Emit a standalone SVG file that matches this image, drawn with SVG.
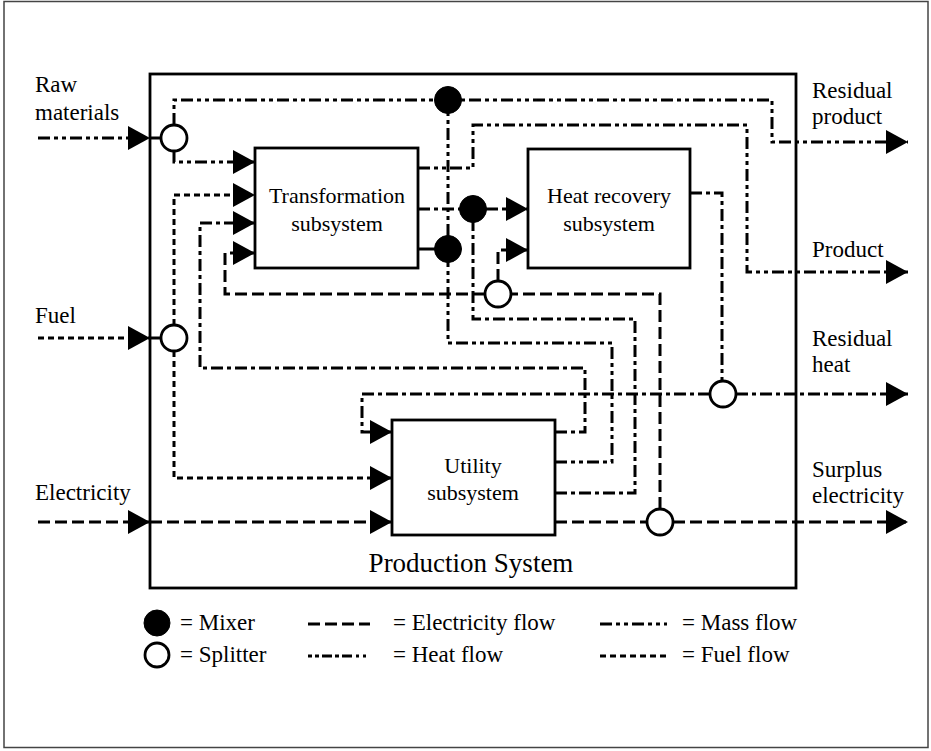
<svg xmlns="http://www.w3.org/2000/svg" width="931" height="751" viewBox="0 0 931 751">
<style>
text{font-family:"Liberation Serif","Times New Roman",serif;font-size:23px;fill:#000}
.bt{font-size:22px}
.box{fill:#fff;stroke:#000;stroke-width:2.8}
.ln{fill:none;stroke:#000;stroke-width:3}
.mass{stroke-dasharray:12 4 4 4 4 4}
.heat{stroke-dasharray:12 4 4 4}
.elec{stroke-dasharray:12 5}
.fuel{stroke-dasharray:6 4}
.sp{fill:#fff;stroke:#000;stroke-width:2.8}
.mx{fill:#000;stroke:#000;stroke-width:1}
.mid{text-anchor:middle}
</style>
<defs>
<marker id="ar" markerUnits="userSpaceOnUse" markerWidth="22" markerHeight="24" refX="22" refY="12" orient="auto">
<path d="M0,0 L22,12 L0,24 z" fill="#000"/>
</marker>
</defs>
<rect x="0" y="0" width="931" height="751" fill="#fff"/>
<rect x="4" y="1.5" width="924" height="746" fill="none" stroke="#444" stroke-width="1.5"/>

<g id="production-system">
<rect x="150" y="74" width="646" height="514" fill="none" stroke="#000" stroke-width="2.8"/>
<text x="471" y="572" class="mid" style="font-size:27px">Production System</text>
</g>

<g id="connectors">
<!-- mass flows -->
<path class="ln mass" d="M38,138 H150" marker-end="url(#ar)"/>
<path class="ln" d="M150,138 H161"/>
<path class="ln mass" d="M174,125 V100 H772 V142 H908" marker-end="url(#ar)"/>
<path class="ln mass" d="M174,151 V162 H255" marker-end="url(#ar)"/>
<path class="ln mass" d="M418,168 H473 V125 H747 V272 H908" marker-end="url(#ar)"/>
<path class="ln" d="M418,249 H435"/>
<path class="ln mass" d="M448,236 V113"/>
<path class="ln mass" d="M555,462 H612 V343 H448 V262"/>
<!-- heat flows -->
<path class="ln heat" d="M418,209 H460"/>
<path class="ln heat" d="M486,209 H528" marker-end="url(#ar)"/>
<path class="ln heat" d="M555,493 H635 V319 H473 V222"/>
<path class="ln heat" d="M690,193 H722 V381"/>
<path class="ln heat" d="M736,394 H908" marker-end="url(#ar)"/>
<path class="ln heat" d="M710,394 H362 V432 H392" marker-end="url(#ar)"/>
<path class="ln heat" d="M555,432 H585 V368 H200 V223 H255" marker-end="url(#ar)"/>
<!-- electricity flows -->
<path class="ln elec" d="M38,522 H150" marker-end="url(#ar)"/>
<path class="ln elec" d="M150,522 H392" marker-end="url(#ar)"/>
<path class="ln elec" d="M555,522 H647"/>
<path class="ln elec" d="M673,522 H908" marker-end="url(#ar)"/>
<path class="ln elec" d="M660,509 V294 H511"/>
<path class="ln elec" d="M498,281 V250 H528" marker-end="url(#ar)"/>
<path class="ln elec" d="M485,294 H225 V253 H255" marker-end="url(#ar)"/>
<!-- fuel flows -->
<path class="ln fuel" d="M38,338 H150" marker-end="url(#ar)"/>
<path class="ln" d="M150,338 H161"/>
<path class="ln fuel" d="M174,325 V195 H255" marker-end="url(#ar)"/>
<path class="ln fuel" d="M174,351 V478 H392" marker-end="url(#ar)"/>
</g>

<g id="transformation">
<rect class="box" x="255" y="148" width="163" height="120"/>
<text x="337" y="203" class="mid bt">Transformation</text>
<text x="337" y="231" class="mid bt">subsystem</text>
</g>
<g id="heat-recovery">
<rect class="box" x="528" y="149" width="162" height="119"/>
<text x="609" y="203" class="mid bt">Heat recovery</text>
<text x="609" y="231" class="mid bt">subsystem</text>
</g>
<g id="utility">
<rect class="box" x="392" y="420" width="163" height="115"/>
<text x="473" y="473" class="mid bt">Utility</text>
<text x="473" y="500" class="mid bt">subsystem</text>
</g>

<g id="splitter-raw"><circle class="sp" cx="174" cy="138" r="13"/></g>
<g id="splitter-fuel"><circle class="sp" cx="174" cy="338" r="13"/></g>
<g id="mixer-top"><circle class="mx" cx="448" cy="100" r="13.5"/></g>
<g id="mixer-mid"><circle class="mx" cx="473" cy="209" r="13.5"/></g>
<g id="mixer-bottom"><circle class="mx" cx="448" cy="249" r="13.5"/></g>
<g id="splitter-elec"><circle class="sp" cx="498" cy="294" r="13"/></g>
<g id="splitter-heat"><circle class="sp" cx="723" cy="394" r="13"/></g>
<g id="splitter-surplus"><circle class="sp" cx="660" cy="522" r="13"/></g>

<g id="labels">
<text x="35" y="92">Raw</text>
<text x="35" y="120">materials</text>
<text x="35" y="323">Fuel</text>
<text x="35" y="500">Electricity</text>
<text x="812" y="98">Residual</text>
<text x="812" y="124">product</text>
<text x="812" y="257">Product</text>
<text x="812" y="346">Residual</text>
<text x="812" y="372">heat</text>
<text x="812" y="477">Surplus</text>
<text x="812" y="503">electricity</text>
</g>

<g id="legend">
<circle class="mx" cx="157" cy="623" r="13"/>
<text x="180" y="630">= Mixer</text>
<circle class="sp" cx="157" cy="655" r="12"/>
<text x="180" y="662">= Splitter</text>
<path class="ln elec" d="M308,624 H370"/>
<text x="393" y="630">= Electricity flow</text>
<path class="ln heat" d="M308,656 H370" style="stroke-dasharray:4 3 4 3 10 3 4 3 10"/>
<text x="393" y="662">= Heat flow</text>
<path class="ln mass" d="M600,624 H667"/>
<text x="682" y="630">= Mass flow</text>
<path class="ln fuel" d="M600,656 H667"/>
<text x="682" y="662">= Fuel flow</text>
</g>
</svg>
